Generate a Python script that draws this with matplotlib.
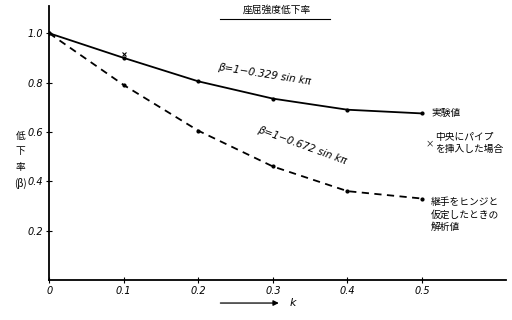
import matplotlib
matplotlib.use('Agg')
import matplotlib.pyplot as plt

plt.rcParams['font.family'] = ['Noto Sans CJK JP', 'DejaVu Sans']

# ── Data ─────────────────────────────────────────────────────────────
k_vals     = [0.0, 0.1, 0.2, 0.3, 0.4, 0.5]
beta_exp   = [1.0, 0.90, 0.805, 0.735, 0.69, 0.675]   # 実験値
beta_calc  = [1.0, 0.79, 0.605, 0.46, 0.36, 0.33]     # 解析値
pipe_k     = [0.1]
pipe_beta  = [0.915]
x_ticks    = [0, 0.1, 0.2, 0.3, 0.4, 0.5]
x_labels   = ['0', '0.1', '0.2', '0.3', '0.4', '0.5']
y_ticks    = [0.2, 0.4, 0.6, 0.8, 1.0]
y_labels   = ['0.2', '0.4', '0.6', '0.8', '1.0']

fig = plt.figure(figsize=(5.12, 3.2), dpi=100)
ax = fig.add_axes([0.096, 0.125, 0.893, 0.856])

ax.plot(k_vals, beta_exp, color='black', lw=1.3, marker='o', ms=2)
ax.plot(k_vals, beta_calc, color='black', lw=1.3, ls=(0, (4, 3)), marker='o', ms=2)
ax.plot(pipe_k, pipe_beta, ls='none', marker='x', color='black', ms=3, mew=0.8)

ax.set_xlim(0, 0.613)
ax.set_ylim(0, 1.11)
ax.set_xticks(x_ticks)
ax.set_xticklabels(x_labels, fontsize=7, style='italic', family='DejaVu Sans')
ax.set_yticks(y_ticks)
ax.set_yticklabels(y_labels, fontsize=7, style='italic', family='DejaVu Sans')
ax.tick_params(direction='inout', length=4, width=0.8, pad=2)
ax.spines['top'].set_visible(False)
ax.spines['right'].set_visible(False)
ax.spines['left'].set_linewidth(1.3)
ax.spines['bottom'].set_linewidth(1.3)

# title
fig.text(0.54, 0.968, '座屈強度低下率', fontsize=7, ha='center', va='center')
fig.add_artist(plt.Line2D([0.43, 0.645], [0.942, 0.942], color='black', lw=0.8,
                          transform=fig.transFigure))

# y label
fig.text(0.04, 0.50, '低\n下\n率\n(β)', fontsize=7, ha='center', va='center',
         linespacing=1.7)

# formulas
ax.text(0.225, 0.785, 'β=1−0.329 sin kπ', fontsize=7.5, style='italic',
        rotation=-9, ha='left', va='bottom', family='DejaVu Sans')
ax.text(0.278, 0.545, 'β=1−0.672 sin kπ', fontsize=7.5, style='italic',
        rotation=-20, ha='left', va='center', family='DejaVu Sans')

# right-hand labels
ax.text(0.512, 0.678, '実験値', fontsize=7, ha='left', va='center')
ax.text(0.51, 0.553, '×', fontsize=6, ha='center', va='center')
ax.text(0.518, 0.555, '中央にパイプ\nを挿入した場合', fontsize=7, ha='left',
        va='center', linespacing=1.3)
ax.text(0.512, 0.265, '継手をヒンジと\n仮定したときの\n解析値', fontsize=7,
        ha='left', va='center', linespacing=1.3)

# x label with arrow
fig.add_artist(matplotlib.patches.FancyArrowPatch(
    (0.425, 0.053), (0.55, 0.053), transform=fig.transFigure,
    arrowstyle='-|>', mutation_scale=8, color='black', lw=0.9))
fig.text(0.572, 0.053, 'k', fontsize=8, style='italic', ha='center', va='center',
         family='DejaVu Sans')

fig.savefig('out.png', dpi=100)
